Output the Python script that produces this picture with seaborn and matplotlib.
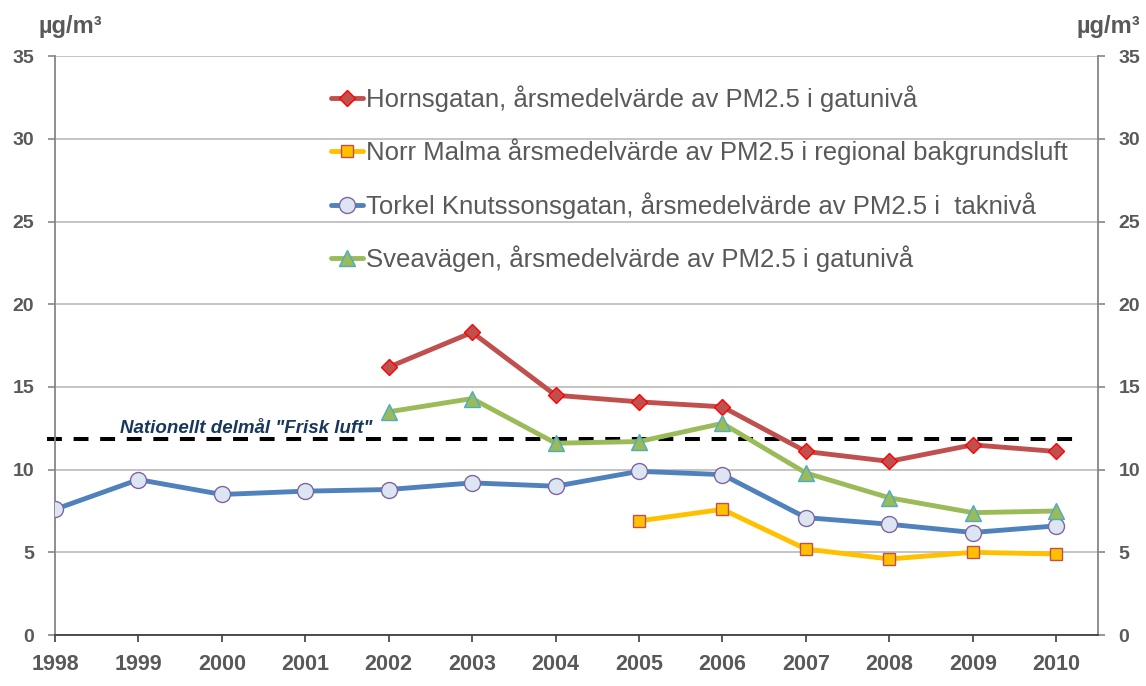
import numpy as np
import matplotlib
matplotlib.use("Agg")
import matplotlib.pyplot as plt
import seaborn as sns

sns.set_style("white")
plt.rcParams['font.family'] = ['Liberation Sans', 'DejaVu Sans']

# data (µg/m3, annual means of PM2.5)
years_horn = [2002, 2003, 2004, 2005, 2006, 2007, 2008, 2009, 2010]
horn = [16.2, 18.3, 14.5, 14.1, 13.8, 11.1, 10.5, 11.5, 11.1]

years_norr = [2005, 2006, 2007, 2008, 2009, 2010]
norr = [6.9, 7.6, 5.2, 4.6, 5.0, 4.9]

years_torkel = list(range(1998, 2011))
torkel = [7.6, 9.4, 8.5, 8.7, 8.8, 9.2, 9.0, 9.9, 9.7, 7.1, 6.7, 6.2, 6.6]

years_svea = [2002, 2003, 2004, 2005, 2006, 2007, 2008, 2009, 2010]
svea = [13.5, 14.3, 11.6, 11.7, 12.8, 9.8, 8.3, 7.4, 7.5]

goal = 11.85
goal_label = 'Nationellt delmål "Frisk luft"'

labels = [
    "Hornsgatan, årsmedelvärde av PM2.5 i gatunivå",
    "Norr Malma årsmedelvärde av PM2.5 i regional bakgrundsluft",
    "Torkel Knutssonsgatan, årsmedelvärde av PM2.5 i  taknivå",
    "Sveavägen, årsmedelvärde av PM2.5 i gatunivå",
]
year_ticks = list(range(1998, 2011))
y_ticks = [0, 5, 10, 15, 20, 25, 30, 35]

GRAY_TXT = "#595959"

fig = plt.figure(figsize=(11.46, 6.86), dpi=100)
ax = fig.add_axes([0.048, 0.0743, 0.910, 0.8437])

styles = [
    dict(x=years_horn, y=horn, color="#C0504D", marker="D", markersize=8,
         markerfacecolor="#C0504D", markeredgecolor="#FF0000"),
    dict(x=years_norr, y=norr, color="#FFC000", marker="s", markersize=8.5,
         markerfacecolor="#FFC000", markeredgecolor="#C0504D"),
    dict(x=years_torkel, y=torkel, color="#4F81BD", marker="o", markersize=11.5,
         markerfacecolor="#DCE6F2", markeredgecolor="#8064A2"),
    dict(x=years_svea, y=svea, color="#9BBB59", marker="^", markersize=12,
         markerfacecolor="#9BBB59", markeredgecolor="#4BACC6"),
]
for st, lab in zip(styles, labels):
    sns.lineplot(ax=ax, x=st["x"], y=st["y"], color=st["color"], linewidth=3.5,
                 marker=st["marker"], markersize=st["markersize"],
                 markerfacecolor=st["markerfacecolor"],
                 markeredgecolor=st["markeredgecolor"], markeredgewidth=1.0,
                 label=lab, zorder=3)

# national target line
ax.axhline(goal, xmin=-0.008, xmax=0.985, color="black", linewidth=2.9,
           linestyle=(0, (3.7, 2.9)), clip_on=False, zorder=2)
ax.text(1998.78, goal + 0.1, goal_label, fontsize=13.5, fontweight="bold",
        fontstyle="italic", color="#17375E", ha="left", va="bottom")

ax.set_xlim(1998, 2010.5)
ax.set_ylim(0, 35)
ax.set_xticks(year_ticks)
ax.set_yticks(y_ticks)
ax.set_xticklabels([str(y) for y in year_ticks])
ax.yaxis.grid(True, color="#BFBFBF", linewidth=1.3)
ax.xaxis.grid(False)
ax.set_axisbelow(True)

for side in ["left", "right"]:
    ax.spines[side].set_visible(True)
    ax.spines[side].set_color("#868686")
    ax.spines[side].set_linewidth(1.3)
ax.spines["top"].set_visible(False)
ax.spines["bottom"].set_color("#404040")
ax.spines["bottom"].set_linewidth(1.3)

ax.tick_params(axis="y", which="both", left=True, right=True, labelleft=True,
               labelright=True, direction="out", length=5, width=1.2,
               color="#868686", pad=10, labelsize=14, labelcolor=GRAY_TXT)
ax.tick_params(axis="x", bottom=True, direction="out", length=5, width=1.2,
               color="#404040", pad=9, labelsize=15.5, labelcolor=GRAY_TXT)
for lbl in ax.get_xticklabels() + ax.get_yticklabels():
    lbl.set_fontweight("bold")
for lbl in ax.yaxis.get_ticklabels(which="both"):
    lbl.set_fontweight("bold")
ax.set_xlabel("")
ax.set_ylabel("")

fig.text(39 / 1146, 1 - 27 / 686, "µg/m³", fontsize=17, fontweight="bold",
         color=GRAY_TXT, ha="left", va="center")
fig.text(1140 / 1146, 1 - 27 / 686, "µg/m³", fontsize=17, fontweight="bold",
         color=GRAY_TXT, ha="right", va="center")

leg = ax.legend(loc="upper left", bbox_to_anchor=(0.255, 0.968), frameon=False,
                fontsize=18.5, handlelength=1.25, handletextpad=0.12,
                labelspacing=1.04, borderaxespad=0)
for t in leg.get_texts():
    t.set_color(GRAY_TXT)

fig.savefig("out.png", dpi=100)
